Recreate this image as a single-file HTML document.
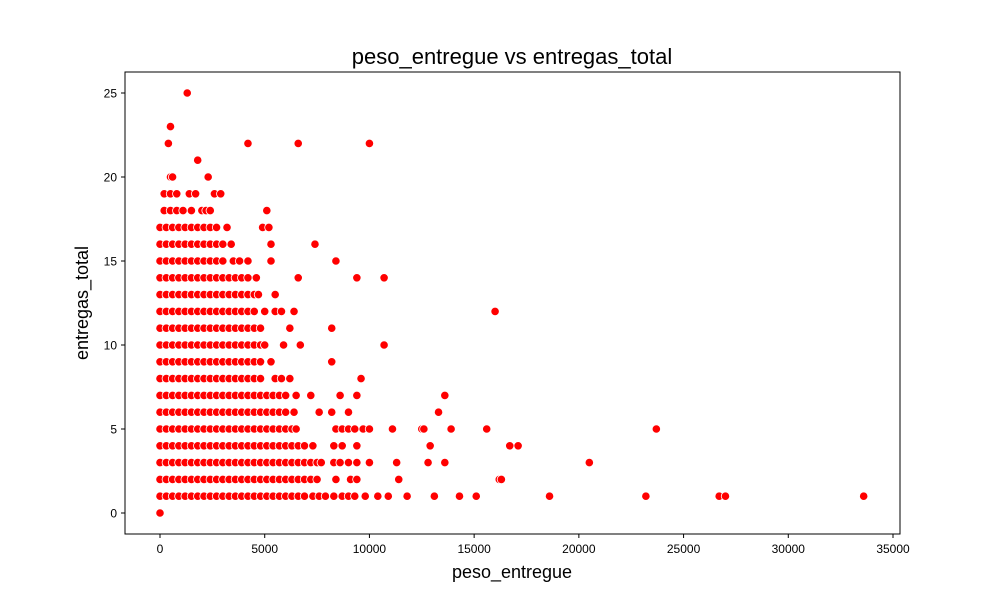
<!DOCTYPE html>
<html><head><meta charset="utf-8"><style>
html,body{margin:0;padding:0;background:#fff;}
svg{display:block;font-family:"Liberation Sans","DejaVu Sans",sans-serif;}
</style></head><body>
<svg id="chart" width="1000" height="600">
<rect x="0" y="0" width="1000" height="600" fill="#fff"/>
<text x="512" y="64" text-anchor="middle" font-size="22">peso_entregue vs entregas_total</text>
<g id="marks"></g>
<rect x="125" y="72" width="775" height="462" fill="none" stroke="#000" stroke-width="1"/>
<g id="xaxis"></g>
<g id="yaxis"></g>
<text x="512" y="578" text-anchor="middle" font-size="18">peso_entregue</text>
<text transform="translate(88,303) rotate(-90)" text-anchor="middle" font-size="18">entregas_total</text>
</svg>
<script>
const xTicks=[0,5000,10000,15000,20000,25000,30000,35000];
const yTicks=[0,5,10,15,20,25];
const entregasLevels=[0,1,2,3,4,5,6,7,8,9,10,11,12,13,14,15,16,17,18,19,20,21,22,23,25];
const pesoByRow=[
[0],
[0,300,600,900,1200,1500,1800,2100,2400,2700,3000,3300,3600,3900,4200,4500,4800,5100,5400,5700,6000,6300,6600,6900,7300,7600,7900,8300,8700,9000,9300,9800,10400,10900,11800,13100,14300,15100,18600,23200,26700,27000,33600],
[0,300,600,900,1200,1500,1800,2100,2400,2700,3000,3300,3600,3900,4200,4500,4800,5100,5400,5700,6000,6300,6600,6900,7200,7500,8400,9100,9400,11400,16200,16300],
[0,300,600,900,1200,1500,1800,2100,2400,2700,3000,3300,3600,3900,4200,4500,4800,5100,5400,5700,6000,6300,6600,6900,7200,7500,7700,8300,8600,9000,9400,10000,11300,12800,13600,20500],
[0,300,600,900,1200,1500,1800,2100,2400,2700,3000,3300,3600,3900,4200,4500,4800,5100,5400,5700,6000,6300,6600,6900,7300,8300,8700,9400,12900,16700,17100],
[0,300,600,900,1200,1500,1800,2100,2400,2700,3000,3300,3600,3900,4200,4500,4800,5100,5400,5700,6000,6300,6500,8400,8700,9000,9300,9700,10000,11100,12500,12600,13900,15600,23700],
[0,300,600,900,1200,1500,1800,2100,2400,2700,3000,3300,3600,3900,4200,4500,4800,5100,5400,5700,6000,6400,7600,8200,9000,13300],
[0,300,600,900,1200,1500,1800,2100,2400,2700,3000,3300,3600,3900,4200,4500,4800,5100,5400,5700,6000,6500,7200,8600,9400,13600],
[0,300,600,900,1200,1500,1800,2100,2400,2700,3000,3300,3600,3900,4200,4500,4800,5500,5800,6200,9600],
[0,300,600,900,1200,1500,1800,2100,2400,2700,3000,3300,3600,3900,4200,4500,4800,5300,8200],
[0,300,600,900,1200,1500,1800,2100,2400,2700,3000,3300,3600,3900,4200,4500,4800,5000,5900,6700,10700],
[0,300,600,900,1200,1500,1800,2100,2400,2700,3000,3300,3600,3900,4200,4500,4800,6200,8200],
[0,300,600,900,1200,1500,1800,2100,2400,2700,3000,3300,3600,3900,4200,4500,5000,5500,5800,6400,16000],
[0,300,600,900,1200,1500,1800,2100,2400,2700,3000,3300,3600,3900,4200,4500,4700,5500],
[0,300,600,900,1200,1500,1800,2100,2400,2700,3000,3300,3600,3900,4200,4600,6600,9400,10700],
[0,300,600,900,1200,1500,1800,2100,2400,2700,3000,3500,3800,4200,5300,8400],
[0,300,600,900,1200,1500,1800,2100,2400,2700,3000,3400,5300,7400],
[0,300,600,900,1200,1500,1800,2100,2400,2700,3200,4900,5200],
[200,500,800,1100,1500,2000,2200,2400,5100],
[200,500,800,1400,1700,2600,2900],
[500,600,2300],
[1800],
[400,4200,6600,10000],
[500],
[1300]
];
const X=v=>160+v*(733/35000);
const Y=v=>513-v*(420/25);
const NS='http://www.w3.org/2000/svg';
const marks=document.getElementById('marks');
pesoByRow.forEach((row,i)=>{row.forEach(p=>{
const c=document.createElementNS(NS,'circle');
c.setAttribute('cx',X(p));c.setAttribute('cy',Y(entregasLevels[i]));c.setAttribute('r',4.2);
c.setAttribute('fill','#ff0000');c.setAttribute('stroke','#fff');c.setAttribute('stroke-width',0.8);


marks.appendChild(c);});});
const xa=document.getElementById('xaxis');
xTicks.forEach(t=>{
const l=document.createElementNS(NS,'line');
l.setAttribute('x1',X(t));l.setAttribute('x2',X(t));l.setAttribute('y1',534);l.setAttribute('y2',538);l.setAttribute('stroke','#000');


xa.appendChild(l);
const tx=document.createElementNS(NS,'text');
tx.setAttribute('x',X(t));tx.setAttribute('y',553);tx.setAttribute('text-anchor','middle');tx.setAttribute('font-size','12');
tx.textContent=t;


xa.appendChild(tx);});
const ya=document.getElementById('yaxis');
yTicks.forEach(t=>{
const l=document.createElementNS(NS,'line');
l.setAttribute('x1',121);l.setAttribute('x2',125);l.setAttribute('y1',Y(t));l.setAttribute('y2',Y(t));l.setAttribute('stroke','#000');


ya.appendChild(l);
const tx=document.createElementNS(NS,'text');
tx.setAttribute('x',117);tx.setAttribute('y',Y(t)+4.5);tx.setAttribute('text-anchor','end');tx.setAttribute('font-size','12');
tx.textContent=t;


ya.appendChild(tx);});
</script>
</body></html>
